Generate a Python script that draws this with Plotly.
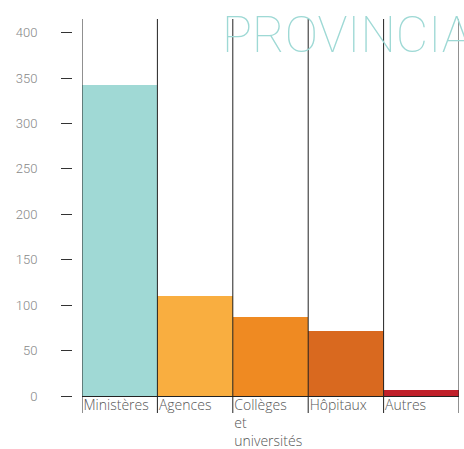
import plotly.graph_objects as go

categories = ["Ministères", "Agences", "Collèges<br>et<br>universités", "Hôpitaux", "Autres"]
values = [342, 110, 87, 72, 7]
colors = ["#a0d9d5", "#f9ae40", "#ef8a22", "#d9691f", "#c0202a"]
y_ticks = [0, 50, 100, 150, 200, 250, 300, 350, 400]
title_text = "PROVINCIAL"

W, H = 464, 449
L, R, T, B = 20, 5, 19, 53
pw = W - L - R
ph = H - T - B
x_dom0 = (82 - L) / pw
y_pos = (72 - L) / pw

xs = list(range(len(categories)))
bounds = [i - 0.5 for i in range(len(categories) + 1)]

fig = go.Figure(go.Bar(x=xs, y=values, width=1.0, marker=dict(color=colors, line=dict(width=0))))

shapes = [dict(type="line", xref="x", yref="paper", x0=b, x1=b, y0=-17 / ph, y1=1,
               line=dict(color="#222", width=1), layer="above") for b in bounds]

fig.update_layout(
    template="none",
    width=W, height=H, margin=dict(l=L, r=R, t=T, b=B, autoexpand=False),
    paper_bgcolor="white", plot_bgcolor="white", showlegend=False,
    bargap=0,
    shapes=shapes,
    xaxis=dict(domain=[x_dom0, 1], range=[-0.5, len(categories) - 0.5], showgrid=False, zeroline=False,
               automargin=False,
               showline=True, linecolor="#222", linewidth=1,
               tickmode="array", tickvals=bounds[:-1], ticktext=categories,
               ticklabelposition="outside right", ticks="", ticklabelstandoff=-4, ticklabelshift=1,
               tickfont=dict(family="Open Sans", size=14, color="#555", weight=300)),
    yaxis=dict(range=[0, 415], anchor="free", position=y_pos, showgrid=False, zeroline=False,
               automargin=False,
               showline=False, tickmode="array", tickvals=y_ticks, ticks="outside", ticklen=11,
               tickcolor="#333", tickwidth=1, ticklabelstandoff=21,
               tickfont=dict(family="Roboto", size=13, color="#888", weight=300)),
    annotations=[dict(text=title_text, xref="paper", yref="paper", x=(220 - L) / pw, y=1 + (19 - 4) / ph,
                      xanchor="left", yanchor="top", showarrow=False,
                      font=dict(family="Roboto", size=50, color="#9ed9d5", weight=100))],
)

fig.write_html("out.html", post_script="document.body.style.margin='0px';",
               config={"displayModeBar": False})
